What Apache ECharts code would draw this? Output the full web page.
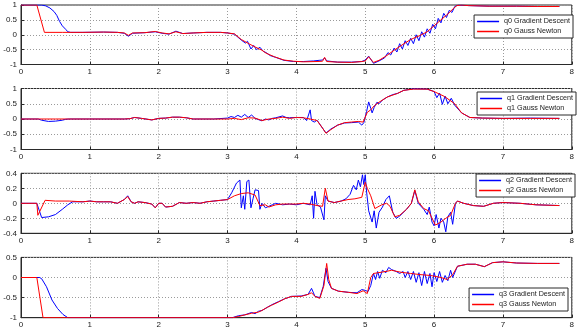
<!DOCTYPE html>
<html>
<head>
<meta charset="utf-8">
<script src="https://cdn.jsdelivr.net/npm/echarts@6/dist/echarts.min.js"></script>
<style>html,body{margin:0;padding:0;background:#fff}#c{width:577px;height:334px}</style>
</head>
<body>
<div id="c"></div>
<script>
// ---- data (time in s, values) ----
var xTicks = [0,1,2,3,4,5,6,7,8];
var names = ["q0 Gradient Descent","q0 Gauss Newton","q1 Gradient Descent","q1 Gauss Newton","q2 Gradient Descent","q2 Gauss Newton","q3 Gradient Descent","q3 Gauss Newton"];

var q0GnT = [0,0.23,0.34,0.6,0.9,1.2,1.4,1.5,1.56,1.62,1.8,1.95,2.05,2.15,2.25,2.35,2.5,2.7,2.9,3.0,3.1,3.2,3.3,3.4,3.5,3.56,3.68,3.82,3.96,4.1,4.3,4.38,4.41,4.44,4.6,4.8,4.95,5.0,5.05,5.12,5.2,5.3,5.42,5.55,5.66,5.8,5.9,6.0,6.1,6.2,6.28,6.33,6.4,6.5,6.8,7.2,7.5,7.82];
var q0GnV = [1,1,0.08,0.08,0.08,0.09,0.08,0.06,-0.02,0.06,0.07,0.11,0.06,0.03,0.1,0.04,0.06,0.08,0.08,0.06,0.03,-0.16,-0.29,-0.41,-0.52,-0.62,-0.74,-0.85,-0.89,-0.91,-0.9,-0.89,-0.76,-0.9,-0.92,-0.93,-0.9,-0.88,-0.74,-0.93,-0.86,-0.72,-0.52,-0.32,-0.16,-0.02,0.1,0.3,0.5,0.7,0.88,0.98,1.0,0.98,0.96,0.96,0.95,0.95];
var q0GdT = [0,0.3,0.36,0.42,0.48,0.52,0.56,0.6,0.65,0.68,0.72,0.9,1.2,1.4,1.5,1.56,1.62,1.8,1.95,2.05,2.15,2.25,2.35,2.5,2.7,2.9,3.0,3.1,3.2,3.26,3.29,3.34,3.38,3.42,3.47,3.52,3.56,3.62,3.7,3.82,3.96,4.1,4.25,4.33,4.38,4.41,4.44,4.6,4.8,4.95,5.0,5.05,5.12,5.2,5.28,5.33,5.37,5.42,5.46,5.5,5.54,5.58,5.62,5.66,5.7,5.74,5.78,5.82,5.86,5.9,5.94,5.98,6.02,6.06,6.1,6.14,6.18,6.22,6.26,6.3,6.35,6.5,6.8,7.2,7.5,7.82];
var q0GdV = [1,1,0.97,0.9,0.78,0.65,0.45,0.3,0.18,0.1,0.08,0.08,0.09,0.08,0.05,-0.05,0.05,0.07,0.1,0.05,0.02,0.12,0.04,0.06,0.08,0.08,0.06,0.02,-0.18,-0.28,-0.22,-0.48,-0.36,-0.5,-0.42,-0.56,-0.6,-0.7,-0.76,-0.86,-0.9,-0.9,-0.88,-0.86,-0.85,-0.78,-0.88,-0.92,-0.92,-0.9,-0.85,-0.72,-0.96,-0.88,-0.78,-0.6,-0.68,-0.45,-0.58,-0.3,-0.48,-0.2,-0.36,-0.12,-0.3,0.0,-0.2,0.1,-0.08,0.2,0.05,0.35,0.2,0.55,0.4,0.72,0.58,0.82,0.75,0.95,1.0,0.98,0.96,0.96,0.95,0.95];

var q1GnT = [0,0.5,1.0,1.5,1.58,1.65,1.75,1.9,2.0,2.1,2.2,2.3,2.4,2.5,2.8,3.0,3.1,3.2,3.3,3.4,3.5,3.6,3.7,3.8,3.9,4.0,4.1,4.2,4.3,4.38,4.43,4.5,4.6,4.7,4.8,4.9,4.97,5.03,5.08,5.13,5.2,5.32,5.47,5.56,5.7,5.9,6.0,6.15,6.3,6.4,6.52,6.7,7.0,7.4,7.82];
var q1GnV = [0,0,0,0,0.01,0.05,0.02,-0.03,0.02,0.03,0.06,0.06,0.04,0,0,0,0.02,-0.02,0.04,0.03,-0.05,0,0.02,0.06,0.02,0.05,0.04,0,-0.05,-0.3,-0.47,-0.35,-0.2,-0.12,-0.1,-0.08,-0.1,0.22,0.3,0.43,0.55,0.72,0.84,0.94,0.98,0.98,0.9,0.74,0.5,0.2,0.05,0.03,0.02,0.02,0.02];
var q1GdT = [0,0.25,0.3,0.4,0.5,0.6,0.65,0.7,1.0,1.5,1.58,1.65,1.75,1.9,2.0,2.1,2.2,2.3,2.4,2.5,2.8,3.0,3.05,3.1,3.15,3.2,3.25,3.3,3.35,3.4,3.45,3.5,3.55,3.6,3.65,3.7,3.8,3.85,3.9,4.0,4.1,4.15,4.2,4.22,4.26,4.3,4.38,4.43,4.5,4.6,4.7,4.8,4.9,4.95,4.98,5.02,5.05,5.08,5.1,5.13,5.17,5.2,5.25,5.32,5.4,5.47,5.56,5.7,5.9,6.0,6.04,6.08,6.12,6.16,6.2,6.25,6.3,6.4,6.52,6.7,7.0,7.4,7.82];
var q1GdV = [0,0,-0.04,-0.08,-0.07,-0.04,-0.01,0,0,0,0.01,0.05,0.02,-0.03,0.02,0.03,0.06,0.06,0.04,0,0,0.03,0.08,0.05,0.12,0.06,0.15,0.05,0.13,0.02,-0.02,-0.06,0,-0.03,0.02,0.04,0.1,0.05,0.04,0.05,0.05,-0.05,0.3,-0.05,-0.1,-0.04,-0.3,-0.46,-0.33,-0.2,-0.13,-0.12,-0.1,-0.2,-0.12,0.25,0.56,0.35,0.2,0.38,0.55,0.5,0.62,0.72,0.8,0.84,0.94,0.99,0.98,0.9,0.7,0.85,0.48,0.75,0.5,0.68,0.45,0.2,0.05,0.03,0.02,0.03,0.02];

var q2GnT = [0,0.23,0.245,0.35,0.5,0.7,0.9,1.0,1.1,1.2,1.3,1.4,1.5,1.55,1.6,1.65,1.7,1.8,1.9,1.95,2.0,2.05,2.1,2.2,2.3,2.4,2.5,2.6,2.7,2.8,2.9,3.0,3.1,3.2,3.3,3.4,3.47,3.55,3.6,3.7,3.8,3.9,4.0,4.1,4.2,4.3,4.38,4.42,4.46,4.55,4.65,4.75,4.85,4.95,5.0,5.03,5.08,5.14,5.24,5.31,5.36,5.43,5.5,5.6,5.67,5.72,5.77,5.85,5.92,5.97,6.02,6.1,6.17,6.24,6.31,6.34,6.43,6.57,6.72,6.86,7.0,7.25,7.48,7.82];
var q2GnV = [0,0,-0.16,0.04,0.03,0.03,0.02,0.03,0.02,0.02,0.02,0,0.05,0.09,0.02,0,0.02,0.01,-0.01,-0.06,0,0,-0.05,-0.04,0.01,0,0.01,0,0.02,0.03,0.04,0.05,0.1,0.13,0.14,0.11,-0.03,-0.02,-0.05,-0.02,-0.01,-0.01,-0.01,0,-0.01,-0.03,-0.04,0.2,0.03,0.01,0.03,0.05,0.06,0.08,0.28,0.2,0.1,-0.07,-0.02,0,-0.04,-0.18,-0.16,-0.08,0,0.18,0.02,-0.07,-0.1,-0.2,-0.29,-0.25,-0.2,-0.16,0,0.03,0,-0.03,-0.04,0,0.01,0,-0.02,-0.03];
var q2GdT = [0,0.23,0.3,0.4,0.5,0.6,0.68,0.75,0.9,1.0,1.1,1.2,1.3,1.4,1.5,1.55,1.6,1.65,1.7,1.8,1.9,1.95,2.0,2.05,2.1,2.2,2.3,2.4,2.5,2.6,2.7,2.8,2.9,3.0,3.06,3.13,3.18,3.2,3.23,3.25,3.28,3.31,3.34,3.37,3.4,3.45,3.47,3.5,3.55,3.6,3.65,3.7,3.8,3.9,4.0,4.1,4.2,4.23,4.25,4.27,4.3,4.35,4.4,4.42,4.46,4.55,4.65,4.72,4.78,4.83,4.87,4.9,4.93,4.96,4.98,5.0,5.02,5.05,5.1,5.13,5.16,5.2,5.25,5.3,5.35,5.4,5.45,5.5,5.6,5.67,5.72,5.77,5.85,5.9,5.93,5.97,6.0,6.03,6.07,6.1,6.14,6.17,6.2,6.24,6.27,6.31,6.34,6.43,6.57,6.72,6.86,7.0,7.25,7.48,7.82];
var q2GdV = [0,0,-0.19,-0.18,-0.15,-0.08,-0.02,0.02,0.02,0.03,0.02,0.02,0.02,0,0.05,0.1,0.02,0,0.02,0.01,-0.01,-0.06,0,0,-0.05,-0.04,0.01,0,0.01,0,0.02,0.03,0.04,0.05,0.14,0.27,0.31,-0.06,0.1,-0.08,0.29,0.31,-0.06,0.06,0.18,0.17,-0.08,0,-0.06,-0.04,-0.02,0,-0.02,-0.01,-0.02,0,-0.02,0.1,-0.2,0.16,-0.02,-0.05,-0.22,0.1,0.03,0.01,0.03,0.06,0.12,0.24,0.18,0.31,0.22,0.38,0.25,0.38,0.15,-0.1,-0.25,-0.1,-0.33,-0.12,-0.05,0.05,0.1,-0.12,-0.2,-0.17,-0.08,0,0.17,0,-0.08,-0.15,-0.05,-0.25,-0.3,-0.15,-0.33,-0.2,-0.25,-0.38,-0.18,-0.12,-0.28,0,0.03,0,-0.03,-0.04,0,0.01,0,-0.02,-0.03];

var q3GnT = [0,0.23,0.32,1,2,3.07,3.16,3.25,3.35,3.45,3.5,3.58,3.64,3.74,3.83,3.93,4.07,4.17,4.22,4.27,4.34,4.4,4.44,4.47,4.51,4.61,4.76,4.88,4.97,5.03,5.08,5.12,5.23,5.33,5.38,5.52,5.66,5.81,5.95,6.1,6.19,6.27,6.34,6.48,6.6,6.73,6.85,7.0,7.2,7.5,7.82];
var q3GnV = [0,0,-1,-1,-1,-1,-0.97,-0.93,-0.89,-0.86,-0.82,-0.74,-0.69,-0.61,-0.53,-0.47,-0.47,-0.42,-0.38,-0.47,-0.52,-0.2,0.35,-0.05,-0.27,-0.34,-0.37,-0.4,-0.33,-0.4,0.0,0.1,0.13,0.16,0.18,0.13,0.1,0.07,0.05,0,-0.05,0.07,0.28,0.33,0.33,0.27,0.37,0.39,0.36,0.35,0.35];
var q3GdT = [0,0.27,0.3,0.37,0.45,0.53,0.61,0.68,1,2,3.07,3.16,3.25,3.35,3.4,3.45,3.5,3.58,3.64,3.74,3.83,3.93,4.07,4.17,4.22,4.27,4.34,4.39,4.43,4.46,4.51,4.61,4.76,4.88,4.95,5.0,5.04,5.08,5.12,5.15,5.18,5.21,5.25,5.3,5.34,5.38,5.45,5.5,5.55,5.58,5.62,5.66,5.7,5.74,5.78,5.82,5.86,5.9,5.94,5.97,6.0,6.04,6.08,6.12,6.16,6.2,6.24,6.27,6.34,6.48,6.6,6.73,6.85,7.0,7.2,7.5,7.82];
var q3GdV = [0,0,-0.03,-0.23,-0.56,-0.77,-0.92,-1,-1,-1,-1,-0.95,-0.93,-0.87,-0.9,-0.84,-0.82,-0.74,-0.68,-0.6,-0.53,-0.47,-0.46,-0.42,-0.27,-0.47,-0.5,-0.22,0.23,-0.1,-0.27,-0.34,-0.37,-0.38,-0.3,-0.32,-0.35,-0.2,0.1,-0.05,0.15,-0.02,0.18,0.12,0.25,0.2,0.15,0.1,0.15,0,0.15,-0.05,0.15,-0.12,0.12,-0.2,0.15,-0.15,0.1,-0.23,0.12,-0.1,0.15,-0.12,0.05,-0.08,0.18,0,0.28,0.33,0.33,0.27,0.37,0.39,0.36,0.35,0.35];

var yRanges = [[-1,1,0.5],[-1,1,0.5],[-0.4,0.4,0.2],[-1,0.5,0.5]];

// ---- layout ----
var grids = [{top:5,height:59.5},{top:88.5,height:61},{top:173.3,height:60},{top:257.4,height:60.3}];
var legendTops = [15,92,174,288];
var legendRights = [4,1,2,9];

function zip(t,v){var o=[];for(var i=0;i<t.length;i++)o.push([t[i],v[i]]);return o;}
var seriesData = [zip(q0GdT,q0GdV),zip(q0GnT,q0GnV),zip(q1GdT,q1GdV),zip(q1GnT,q1GnV),zip(q2GdT,q2GdV),zip(q2GnT,q2GnV),zip(q3GdT,q3GdV),zip(q3GnT,q3GnV)];

var font = 'Liberation Sans, Arial, sans-serif';
var frame = '#2a2a2a';
var cols = ['#0000ff','#ff0000'];
var option = {animation:false, backgroundColor:'#fff', grid:[], xAxis:[], yAxis:[], series:[], legend:[]};
for (var k=0;k<4;k++){
  option.grid.push({left:21,right:2,top:grids[k].top,height:grids[k].height,show:true,borderColor:frame,borderWidth:1,backgroundColor:'#fff'});
  option.xAxis.push({type:'value',gridIndex:k,min:xTicks[0],max:xTicks[xTicks.length-1],interval:1,
    axisLine:{show:true,onZero:false,lineStyle:{color:frame,width:1}},
    axisTick:{show:true,inside:true,length:3,lineStyle:{color:frame}},
    axisLabel:{fontSize:8,color:'#1a1a1a',fontFamily:font,margin:3},
    splitLine:{show:true,lineStyle:{color:'#9a9a9a',type:[1,2],width:1}}});
  var r = yRanges[k];
  option.yAxis.push({type:'value',gridIndex:k,min:r[0],max:r[1],interval:r[2],
    axisLine:{show:true,lineStyle:{color:frame,width:1}},
    axisTick:{show:true,inside:true,length:3,lineStyle:{color:frame}},
    axisLabel:{fontSize:8,color:'#1a1a1a',fontFamily:font,margin:4},
    splitLine:{show:true,lineStyle:{color:'#9a9a9a',type:[1,2],width:1}}});
  option.legend.push({data:[{name:names[2*k],itemStyle:{color:cols[0],borderColor:cols[0],borderWidth:0}},{name:names[2*k+1],itemStyle:{color:cols[1],borderColor:cols[1],borderWidth:0}}],
    orient:'vertical',right:legendRights[k],top:legendTops[k],
    backgroundColor:'#fff',borderColor:frame,borderWidth:1,borderRadius:0,padding:[2,3,2,3],itemGap:1,
    itemWidth:22,itemHeight:1.5,icon:'rect',
    textStyle:{fontSize:7.2,color:'#1a1a1a',fontFamily:font,lineHeight:9},selectedMode:false});
  for (var j=0;j<2;j++){
    option.series.push({name:names[2*k+j],type:'line',xAxisIndex:k,yAxisIndex:k,data:seriesData[2*k+j],
      showSymbol:false,symbol:'none',color:cols[j],lineStyle:{width:1,color:cols[j]},z:2+j});
  }
}
var chart = echarts.init(document.getElementById('c'),null,{renderer:'canvas'});
chart.setOption(option);
</script>
</body>
</html>
